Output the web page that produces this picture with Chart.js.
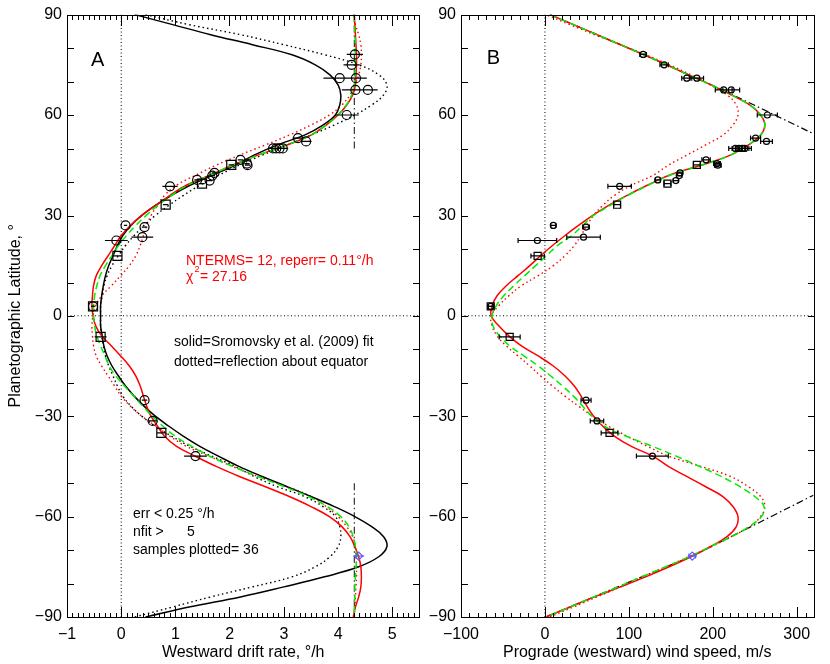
<!DOCTYPE html>
<html>
<head>
<meta charset="utf-8">
<title>Uranus drift rate and wind profiles</title>
<script src="https://cdn.jsdelivr.net/npm/chart.js@4.4.1/dist/chart.umd.min.js"></script>
<style>
  body { margin: 0; background: #fff; }
  #wrap { position: relative; width: 830px; height: 664px; }
  canvas { position: absolute; top: 0; }
  #panelA, #ticksA { left: 0; }
  #panelB, #ticksB { left: 420px; }
  #ticksA, #ticksB { pointer-events: none; }
</style>
</head>
<body>
<div id="wrap">
  <canvas id="panelA" width="427" height="664"></canvas>
  <canvas id="panelB" width="410" height="664"></canvas>
  <canvas id="ticksA" width="427" height="664"></canvas>
  <canvas id="ticksB" width="410" height="664"></canvas>
</div>
<script>
// latitude grid (deg) used by all fitted profiles
const fitLat = [90, 87, 84, 81, 78, 75, 72, 69, 66, 63, 60, 57, 54, 51, 48, 45, 42, 39, 36, 33, 30,
  27, 24, 21, 18, 15, 12, 9, 6, 3, 0, -3, -6, -9, -12, -15, -18, -21, -24, -27, -30,
  -33, -36, -39, -42, -45, -48, -51, -54, -57, -60, -63, -66, -69, -72, -75, -78, -81, -84, -87, -90];

// panel A, westward drift rate (deg/h)
const sromRate = [0.25, 0.95, 1.65, 2.42, 3.15, 3.58, 3.85, 4.0, 4.05, 4.03, 3.95, 3.72, 3.38, 2.87, 2.45, 2.1,
  1.68, 1.27, 0.93, 0.63, 0.38, 0.18, 0.03, -0.07, -0.15, -0.23, -0.29, -0.33, -0.36, -0.38,
  -0.38, -0.38, -0.35, -0.32, -0.26, -0.17, -0.05, 0.08, 0.24, 0.42, 0.63, 0.88, 1.15, 1.45, 1.8,
  2.17, 2.6, 3.05, 3.5, 3.93, 4.31, 4.62, 4.84, 4.9, 4.75, 4.38, 3.75, 3.0, 2.2, 1.25, 0.45];
const ntermRate = [4.30, 4.31, 4.32, 4.33, 4.34, 4.34, 4.33, 4.32, 4.27, 4.16, 4.0, 3.78, 3.5, 3.05, 2.52, 2.05,
  1.63, 1.2, 0.9, 0.64, 0.38, 0.17, 0.0, -0.12, -0.24, -0.36, -0.46, -0.51, -0.53, -0.54,
  -0.52, -0.47, -0.36, -0.18, -0.01, 0.15, 0.27, 0.35, 0.41, 0.47, 0.55, 0.67, 0.8, 1.02, 1.37,
  1.75, 2.18, 2.65, 3.1, 3.5, 3.84, 4.07, 4.22, 4.31, 4.38, 4.42, 4.43, 4.42, 4.38, 4.32, 4.28];
const symRate = [4.30, 4.30, 4.31, 4.32, 4.32, 4.32, 4.31, 4.30, 4.25, 4.15, 4.0, 3.78, 3.5, 3.05, 2.53, 2.06,
  1.64, 1.22, 0.93, 0.68, 0.46, 0.27, 0.1, -0.05, -0.17, -0.29, -0.39, -0.45, -0.49, -0.51,
  -0.51, -0.49, -0.45, -0.38, -0.3, -0.22, -0.1, 0.06, 0.23, 0.4, 0.57, 0.77, 1.0, 1.3, 1.64,
  2.06, 2.52, 3.0, 3.45, 3.8, 4.05, 4.2, 4.28, 4.32, 4.34, 4.33, 4.32, 4.31, 4.31, 4.30, 4.30];

// panel B, prograde wind speed (m/s)
const ntermWind = [6, 34, 62, 90, 118, 145, 171, 198, 222, 244, 257, 262, 257, 242, 221, 186,
  148, 122, 98, 76, 57, 40, 24, 9, -5, -18, -32, -46, -57, -63,
  -64, -55, -43, -28, -8, 10, 24, 35, 43, 50, 58, 69, 83, 103, 129,
  147, 169, 191, 212, 224, 230, 228, 217, 197, 174, 148, 120, 90, 59, 30, 1];
const symWind = [6, 34, 62, 90, 118, 145, 171, 198, 222, 244, 257, 262, 257, 242, 221, 187,
  149, 123, 99, 78, 58, 45, 32, 15, 2, -11, -24, -37, -49, -58,
  -63, -62, -54, -42, -25, -8, 7, 21, 34, 45, 56, 71, 97, 128, 157,
  184, 210, 232, 250, 261, 258, 243, 222, 197, 172, 144, 115, 87, 58, 30, 1];

// constant drift (solid-body) reference
const rotRate = 4.3;
const rotLatN = [50, 90];
const rotLatS = [-50, -90];
const rotWindN = [6, 117, 213, 320];
const rotWindLatN = [90, 78.1, 67.3, 54.4];
const rotWindS = [1, 98, 175.5, 320];
const rotWindLatS = [-90, -79.8, -71.7, -53.6];

// cloud feature measurements
const circLat = [78.1, 75.0, 71.0, 71.0, 67.5, 67.5, 60.0, 53.1, 52.1, 50.0, 50.0, 50.0, 50.0, 46.6, 45.5,
  45.0, 42.7, 41.9, 40.6, 40.4, 38.7, 27.0, 26.5, 23.5, 22.5, 2.8, -25.2, -31.4, -41.9];
const circRate = [4.31, 4.25, 4.03, 4.33, 4.32, 4.55, 4.16, 3.26, 3.41, 2.80, 2.86, 2.92, 2.98, 2.20, 2.32,
  2.33, 1.72, 1.68, 1.40, 1.63, 0.90, 0.08, 0.43, 0.39, -0.09, -0.52, 0.43, 0.58, 1.37];
const circRateErr = [0.15, 0.15, 0.3, 0.2, 0.25, 0.18, 0.22, 0.1, 0.1, 0.08, 0.08, 0.08, 0.1, 0.05, 0.05,
  0.05, 0.05, 0.05, 0.05, 0.05, 0.14, 0.03, 0.05, 0.2, 0.21, 0.03, 0.05, 0.07, 0.21];
const circWind = [117, 142, 169, 181, 213, 222, 265, 251, 264, 227, 231, 235, 238, 192, 205,
  206, 161, 160, 134.5, 156, 89, 10, 49, 46, -9, -64.6, 49, 62, 128];
const circWindErr = [4, 5, 6, 8, 10, 10, 12, 6, 7, 8, 8, 8, 8, 5, 4,
  4, 3, 3, 3, 3, 14, 3, 4, 20, 23, 3, 6, 8, 19];

const sqLat = [45.1, 39.5, 33.2, 17.9, 2.8, -6.3, -35.0];
const sqRate = [2.03, 1.49, 0.82, -0.07, -0.52, -0.38, 0.74];
const sqRateErr = [0.05, 0.05, 0.05, 0.08, 0.03, 0.11, 0.08];
const sqWind = [181, 146, 86, -8.7, -64.6, -42, 77];
const sqWindErr = [4, 4, 4, 8, 3, 12.5, 10];

const diaLat = [-71.8];
const diaRate = [4.38];
const diaRateErr = [0.1];
const diaWind = [175.5];
const diaWindErr = [4];

// axes
const latTicks = [-90, -60, -30, 0, 30, 60, 90];
const rateTicks = [-1, 0, 1, 2, 3, 4, 5];
const windTicks = [-100, 0, 100, 200, 300];

const FONT = "'Liberation Sans', Arial, sans-serif";
const RED = '#ff0000';
const GREEN = '#00ee00';
const BLUE = '#5a5aff';

// axis ranges and tick spacing for the inward tick marks
const tickSpec = {
  panelA: {xMin: -1, xMax: 5.5, xMinor: 0.1, xMajor: 1, yMinor: 10},
  panelB: {xMin: -100, xMax: 320, xMinor: 10, xMajor: 100, yMinor: 10}
};

const pts = (xs, ys) => xs.map((v, i) => ({x: v, y: ys[i]}));
const mirror = (xs, ys) => xs.map((v, i) => ({x: v, y: -ys[i]}));
const fmt = v => (v < 0 ? '\u2212' + Math.abs(v) : String(v));

function curve(data, color, dash, width, order, tension) {
  return {data, showLine: true, borderColor: color, borderDash: dash, borderWidth: width,
    pointRadius: 0, tension: tension === undefined ? 0.4 : tension, fill: false, order};
}

function marks(data, errors, style, radius, color) {
  return {data, errors, showLine: false, pointStyle: style, pointRadius: radius,
    borderColor: color, backgroundColor: 'rgba(0,0,0,0)', pointBorderWidth: 1.2, order: 0};
}

// plot box plus inward ticks on every side, drawn onto any 2d context
function drawFrame(ctx, a, o) {
  const L = Math.round(a.left), R = Math.round(a.right), T = Math.round(a.top), B = Math.round(a.bottom);
  const xPix = v => Math.round(L + (v - o.xMin) / (o.xMax - o.xMin) * (R - L));
  const yPix = v => Math.round(B - (v + 90) / 180 * (B - T));
  ctx.save();
  ctx.globalCompositeOperation = 'source-over';
  ctx.globalAlpha = 1;
  ctx.fillStyle = '#000';
  ctx.fillRect(L, T, R - L + 1, 1);
  ctx.fillRect(L, B, R - L + 1, 1);
  ctx.fillRect(L, T, 1, B - T + 1);
  ctx.fillRect(R, T, 1, B - T + 1);
  const nx = Math.round((o.xMax - o.xMin) / o.xMinor);
  for (let i = 0; i <= nx; i++) {
    const v = o.xMin + i * o.xMinor;
    const px = xPix(v);
    const r = v / o.xMajor;
    const len = Math.abs(r - Math.round(r)) < 1e-6 ? 11 : 5;
    ctx.fillRect(px, B - len + 1, 1, len);
    ctx.fillRect(px, T, 1, len);
  }
  const ny = Math.round(180 / o.yMinor);
  for (let i = 0; i <= ny; i++) {
    const py = yPix(-90 + i * o.yMinor);
    ctx.fillRect(L, py, 7, 1);
    ctx.fillRect(R - 6, py, 7, 1);
  }
  ctx.restore();
}

const frame = {
  id: 'frame',
  afterDraw(chart) {
    drawFrame(chart.ctx, chart.chartArea, tickSpec[chart.canvas.id]);
  }
};

// horizontal error bars
const errbars = {
  id: 'errbars',
  afterDatasetsDraw(chart, args, o) {
    const {ctx, scales: {x, y}} = chart;
    ctx.save();
    ctx.lineWidth = 1.2;
    ctx.setLineDash([]);
    chart.data.datasets.forEach(ds => {
      if (!ds.errors) return;
      ctx.strokeStyle = ds.borderColor;
      ctx.beginPath();
      ds.data.forEach((p, i) => {
        const x0 = x.getPixelForValue(p.x - ds.errors[i]);
        const x1 = x.getPixelForValue(p.x + ds.errors[i]);
        const py = y.getPixelForValue(p.y);
        ctx.moveTo(x0, py); ctx.lineTo(x1, py);
        if (o.cap) {
          ctx.moveTo(x0, py - o.cap); ctx.lineTo(x0, py + o.cap);
          ctx.moveTo(x1, py - o.cap); ctx.lineTo(x1, py + o.cap);
        }
      });
      ctx.stroke();
    });
    ctx.restore();
  }
};

// text annotations inside the panels
const notes = {
  id: 'notes',
  afterDraw(chart, args, o) {
    const ctx = chart.ctx;
    ctx.save();
    ctx.textBaseline = 'middle';
    o.items.forEach(n => {
      ctx.font = (n.size || 14) + 'px ' + FONT;
      ctx.fillStyle = n.color || '#000';
      ctx.textAlign = n.align || 'left';
      ctx.fillText(n.text, n.x, n.y);
    });
    ctx.restore();
  }
};

function panelOptions(c) {
  return {
    responsive: false,
    animation: false,
    events: [],
    layout: {padding: {top: 14, right: c.padRight, left: 0, bottom: 0}},
    plugins: {
      legend: {display: false},
      tooltip: {enabled: false},
      errbars: {cap: c.cap},
      notes: {items: c.notes}
    },
    scales: {
      x: {
        type: 'linear', min: c.xMin, max: c.xMax,
        afterBuildTicks: s => { s.ticks = c.xTicks.map(v => ({value: v})); },
        afterFit: s => { s.height = 47; s.paddingLeft = 0; s.paddingRight = 0; },
        grid: {display: false, drawTicks: false},
        border: {display: false},
        ticks: {color: '#000', font: {family: FONT, size: 16}, padding: 8, maxRotation: 0, callback: fmt},
        title: {display: true, text: c.xTitle, color: '#000', font: {family: FONT, size: 16},
          padding: {top: 0, bottom: 2}}
      },
      y: {
        type: 'linear', min: -90, max: 90,
        afterBuildTicks: s => { s.ticks = latTicks.map(v => ({value: v})); },
        afterFit: s => { s.width = c.yWidth; },
        grid: {display: false, drawTicks: false},
        border: {display: false},
        ticks: {color: '#000', font: {family: FONT, size: 16}, padding: 5, callback: fmt},
        title: {display: !!c.yTitle, text: c.yTitle || '', color: '#000', font: {family: FONT, size: 16},
          padding: {top: 6, bottom: 0}}
      }
    }
  };
}

// panel A: drift rate
const chartA = new Chart(document.getElementById('panelA'), {
  type: 'scatter',
  data: {
    datasets: [
      curve(pts([0, 0], [-90, 90]), '#000', [1, 2.5], 1, 6, 0),
      curve(pts([-1, 5.5], [0, 0]), '#000', [1, 2.5], 1, 6, 0),
      curve(pts([rotRate, rotRate], rotLatN), '#333', [7, 3, 1.5, 3], 1.2, 6, 0),
      curve(pts([rotRate, rotRate], rotLatS), '#333', [7, 3, 1.5, 3], 1.2, 6, 0),
      curve(mirror(sromRate, fitLat), '#000', [1.5, 3], 1.4, 5),
      curve(mirror(ntermRate, fitLat), RED, [1.5, 3], 1.4, 5),
      curve(pts(sromRate, fitLat), '#000', [], 1.5, 4),
      curve(pts(ntermRate, fitLat), RED, [], 1.5, 3),
      curve(pts(symRate, fitLat), GREEN, [7, 4], 1.5, 2),
      marks(pts(circRate, circLat), circRateErr, 'circle', 4.5, '#000'),
      marks(pts(sqRate, sqLat), sqRateErr, 'rect', 6.4, '#000'),
      marks(pts(diaRate, diaLat), diaRateErr, 'rectRot', 4, BLUE)
    ]
  },
  options: panelOptions({
    xMin: -1, xMax: 5.5, xTicks: rateTicks,
    xTitle: 'Westward drift rate, \u00b0/h',
    yTitle: 'Planetographic Latitude, \u00b0',
    yWidth: 67, padRight: 1, cap: 0,
    notes: [
      {text: 'A', x: 97.7, y: 60, size: 20, align: 'center'},
      {text: 'NTERMS= 12, reperr= 0.11\u00b0/h', x: 186, y: 261.5, color: RED},
      {text: '\u03c7', x: 186, y: 277, color: RED},
      {text: '2', x: 194.5, y: 270, size: 9, color: RED},
      {text: '= 27.16', x: 200, y: 277, color: RED},
      {text: 'solid=Sromovsky et al. (2009) fit', x: 174, y: 341.7},
      {text: 'dotted=reflection about equator', x: 174, y: 361.7},
      {text: 'err < 0.25 \u00b0/h', x: 133, y: 514},
      {text: 'nfit >      5', x: 133, y: 532},
      {text: 'samples plotted= 36', x: 133, y: 550}
    ]
  }),
  plugins: [frame, errbars, notes]
});

// panel B: wind speed
const chartB = new Chart(document.getElementById('panelB'), {
  type: 'scatter',
  data: {
    datasets: [
      curve(pts([0, 0], [-90, 90]), '#000', [1, 2.5], 1, 6, 0),
      curve(pts([-100, 320], [0, 0]), '#000', [1, 2.5], 1, 6, 0),
      curve(pts(rotWindN, rotWindLatN), '#000', [7, 3, 1.5, 3], 1.2, 6, 0.2),
      curve(pts(rotWindS, rotWindLatS), '#000', [7, 3, 1.5, 3], 1.2, 6, 0.2),
      curve(mirror(ntermWind, fitLat), RED, [1.5, 3], 1.4, 5),
      curve(pts(ntermWind, fitLat), RED, [], 1.5, 3),
      curve(pts(symWind, fitLat), GREEN, [7, 4], 1.5, 2),
      marks(pts(circWind, circLat), circWindErr, 'circle', 3, '#000'),
      marks(pts(sqWind, sqLat), sqWindErr, 'rect', 5, '#000'),
      marks(pts(diaWind, diaLat), diaWindErr, 'rectRot', 4, BLUE)
    ]
  },
  options: panelOptions({
    xMin: -100, xMax: 320, xTicks: windTicks,
    xTitle: 'Prograde (westward) wind speed, m/s',
    yTitle: '',
    yWidth: 41, padRight: 16.5, cap: 2.5,
    notes: [
      {text: 'B', x: 73.3, y: 58, size: 20, align: 'center'}
    ]
  }),
  plugins: [frame, errbars, notes]
});

// tick marks again on clean overlay canvases, placed from each chart's plot area
drawFrame(document.getElementById('ticksA').getContext('2d'), chartA.chartArea, tickSpec.panelA);
drawFrame(document.getElementById('ticksB').getContext('2d'), chartB.chartArea, tickSpec.panelB);
</script>
</body>
</html>
